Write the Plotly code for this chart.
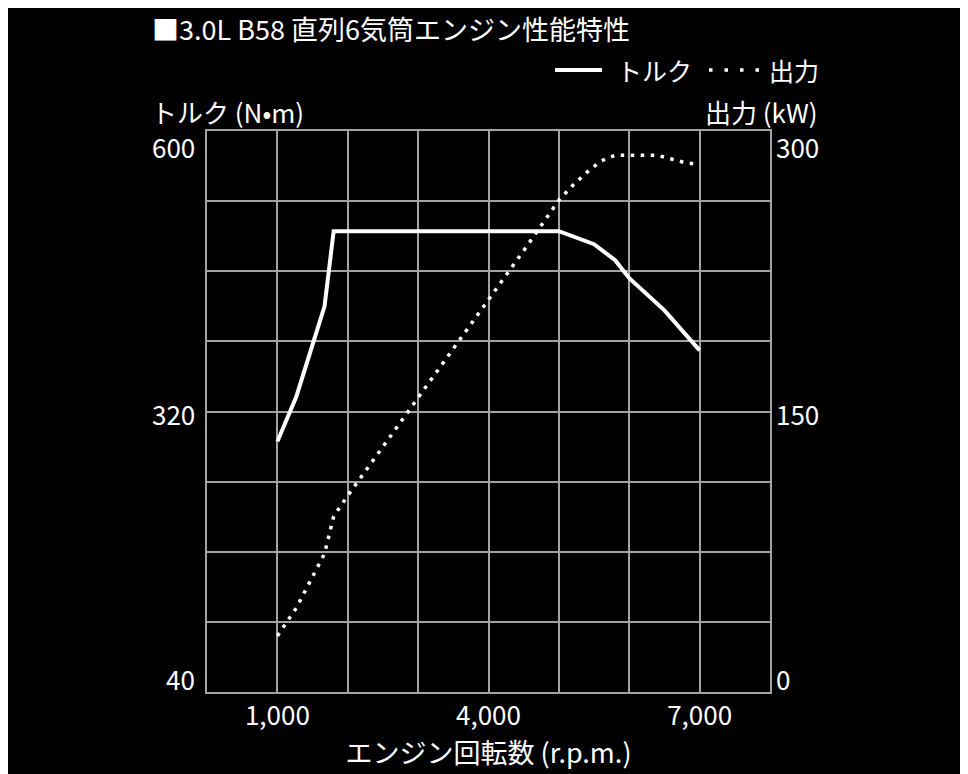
import plotly.graph_objects as go

FONT = "Noto Sans CJK JP"

# ---- data ----
torque_rpm = [1000, 1270, 1670, 1800, 5000, 5500, 5800, 6000, 6500, 7000]
torque_nm = [290, 335, 425, 500, 500, 487, 471, 453, 421, 381]

power_rpm = [1000, 1270, 1670, 1800, 2000, 2400, 3000, 3500, 4000, 4500, 5000,
             5200, 5400, 5600, 5800, 6000, 6200, 6400, 6600, 6800, 7000]
power_kw = [30, 45, 74, 94, 105, 126, 157, 183, 210, 236, 263,
            271, 278, 284, 287, 287, 287, 287, 285, 283, 282]

x_tick_vals = [1000, 4000, 7000]
x_tick_text = ["1,000", "4,000", "7,000"]
torque_tick_vals = [600, 320, 40]
torque_tick_text = ["600", "320", "40"]
power_tick_vals = [300, 150, 0]
power_tick_text = ["300", "150", "0"]

title_text = "■3.0L B58 直列6気筒エンジン性能特性"
torque_name = "トルク"
power_name = "出力"
torque_axis_title = "トルク (N•m)"
power_axis_title = "出力 (kW)"
x_axis_title = "エンジン回転数 (r.p.m.)"

GRID = "#a3a3a3"
FS = 25

# layout geometry (page pixels; page has 8px body margin)
OFF = 8
PL, PR, PT, PB = 207, 770, 131, 692
W, H = 968 - OFF, 774 - OFF
PW, PH = PR - PL, PB - PT


def px(xp):
    return (xp - PL) / PW


def py(yp):
    return (PB - yp) / PH


def tfont(size=FS):
    return dict(size=size, color="white", family=FONT)


fig = go.Figure()
fig.add_trace(go.Scatter(
    x=torque_rpm, y=torque_nm, name=torque_name, mode="lines",
    line=dict(color="white", width=4), yaxis="y"))
fig.add_trace(go.Scatter(
    x=power_rpm, y=power_kw, name=power_name, mode="lines",
    line=dict(color="white", width=3.5, dash="3.5px,6.5px"), yaxis="y2"))

annotations = []
anch = ["top", "middle", "bottom"]
shift = [5, -2, -7]
for i, (v, t) in enumerate(zip(torque_tick_vals, torque_tick_text)):
    annotations.append(dict(x=0, xref="paper", xanchor="right", xshift=-10,
                            y=v, yref="y", yanchor=anch[i], yshift=shift[i], text=t,
                            showarrow=False, font=tfont(26)))
for i, (v, t) in enumerate(zip(power_tick_vals, power_tick_text)):
    annotations.append(dict(x=1, xref="paper", xanchor="left", xshift=4,
                            y=v, yref="y2", yanchor=anch[i], yshift=shift[i], text=t,
                            showarrow=False, font=tfont(26)))

# axis titles
annotations += [
    dict(x=px(149), xref="paper", xanchor="left", y=py(112), yref="paper",
         yanchor="middle", text=torque_axis_title, showarrow=False, font=tfont(26)),
    dict(x=px(820), xref="paper", xanchor="right", y=py(112), yref="paper",
         yanchor="middle", text=power_axis_title, showarrow=False, font=tfont(26)),
    # legend labels
    dict(x=px(615), xref="paper", xanchor="left", y=py(70), yref="paper",
         yanchor="middle", text=torque_name, showarrow=False, font=tfont()),
    dict(x=px(767), xref="paper", xanchor="left", y=py(70), yref="paper",
         yanchor="middle", text=power_name, showarrow=False, font=tfont()),
]

shapes = [
    dict(type="line", xref="paper", yref="paper", x0=px(555), x1=px(602),
         y0=py(70), y1=py(70), line=dict(color="white", width=4)),
    dict(type="line", xref="paper", yref="paper", x0=px(709), x1=px(762),
         y0=py(70), y1=py(70), line=dict(color="white", width=3.5, dash="3.5px,12px")),
]

fig.update_layout(
    width=W, height=H,
    paper_bgcolor="black", plot_bgcolor="black",
    margin=dict(l=PL - OFF, r=W - (PR - OFF), t=PT - OFF, b=H - (PB - OFF)),
    font=dict(family=FONT, color="white", size=FS),
    title=dict(text=title_text, x=(152 - OFF) / W, xanchor="left",
               y=1 - (31 - OFF) / H, yanchor="middle", font=tfont(27)),
    showlegend=False,
    xaxis=dict(range=[0, 8000], tickvals=x_tick_vals, ticktext=x_tick_text,
               showgrid=True, gridcolor=GRID, gridwidth=2,
               minor=dict(dtick=1000, tick0=0, showgrid=True, gridcolor=GRID, gridwidth=2),
               showline=True, linecolor=GRID, linewidth=2, mirror=True,
               ticks="", tickfont=tfont(26),
               title=dict(text=x_axis_title, standoff=0, font=tfont(27)),
               zeroline=False, fixedrange=True),
    yaxis=dict(range=[40, 600], tick0=40, dtick=70, showticklabels=False,
               showgrid=True, gridcolor=GRID, gridwidth=2,
               showline=True, linecolor=GRID, linewidth=2, mirror=True,
               ticks="", zeroline=False),
    yaxis2=dict(range=[0, 300], overlaying="y", side="right", showgrid=False,
                showticklabels=False, ticks="", zeroline=False, showline=False),
    annotations=annotations,
    shapes=shapes,
)

fig.write_html("out.html")
